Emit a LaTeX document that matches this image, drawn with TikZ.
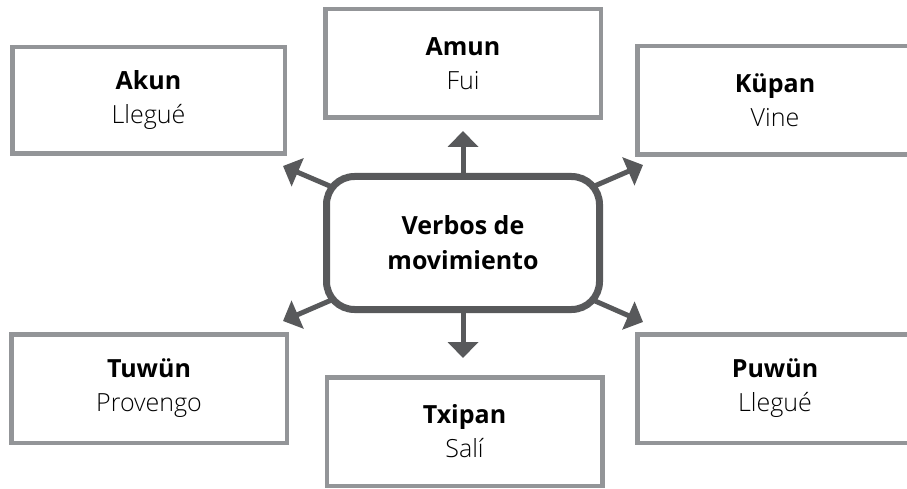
\documentclass[tikz,border=0pt]{standalone}
\usepackage{fontspec}
\setmainfont{Open Sans}
\newfontfamily\lightfont{Open Sans Light}
\usetikzlibrary{arrows.meta,backgrounds}
\definecolor{darkg}{HTML}{58595B}
\definecolor{boxg}{HTML}{939598}
\tikzset{
  leaf/.style={draw=boxg, line width=4.5pt, fill=white, minimum width=275.5pt,
    minimum height=108.5pt, inner sep=0pt, align=center,
    font=\fontsize{25}{34}\selectfont},
  hub/.style={draw=darkg, line width=7pt, rounded corners=28pt, fill=white,
    minimum width=273pt, minimum height=133pt, inner sep=0pt, align=center,
    font=\bfseries\fontsize{25}{35}\selectfont},
  link/.style={draw=darkg, line width=5pt, -{Triangle[length=16pt,width=30pt]}},
}
\newcommand{\leaftext}[2]{{\bfseries #1}\\{\lightfont #2}}
\begin{document}
\begin{tikzpicture}[x=1pt,y=-1pt]
  \useasboundingbox (0,0) rectangle (907,489);
  \clip (0,0) rectangle (907,489);
  \node[hub] (hub) at (463,243) {Verbos de\\movimiento};
  \node[leaf, minimum width=272.5pt, minimum height=106.5pt] (akun) at (148.5,100.5) {\leaftext{Akun}{Llegué}};
  \node[leaf] (amun) at (463,63.5) {\leaftext{Amun}{Fui}};
  \node[leaf] (kupan) at (775,100.5) {\leaftext{Küpan}{Vine}};
  \node[leaf] (tuwun) at (149,388.5) {\leaftext{Tuwün}{Provengo}};
  \node[leaf] (txipan) at (464.5,431.5) {\leaftext{Txipan}{Salí}};
  \node[leaf] (puwun) at (775,388.5) {\leaftext{Puwün}{Llegué}};
  \coordinate (tN) at (463,131);
  \coordinate (tS) at (463,358);
  \coordinate (tNE) at (643,165);
  \coordinate (tNW) at (283,166);
  \coordinate (tSW) at (283,321);
  \coordinate (tSE) at (643,322);
  \begin{scope}[on background layer]
    \draw[link] (hub.center) -- (tN);
    \draw[link] (hub.center) -- (tS);
    \draw[link] (hub.center) -- (tNE);
    \draw[link] (hub.center) -- (tNW);
    \draw[link] (hub.center) -- (tSW);
    \draw[link] (hub.center) -- (tSE);
  \end{scope}
\end{tikzpicture}
\end{document}
